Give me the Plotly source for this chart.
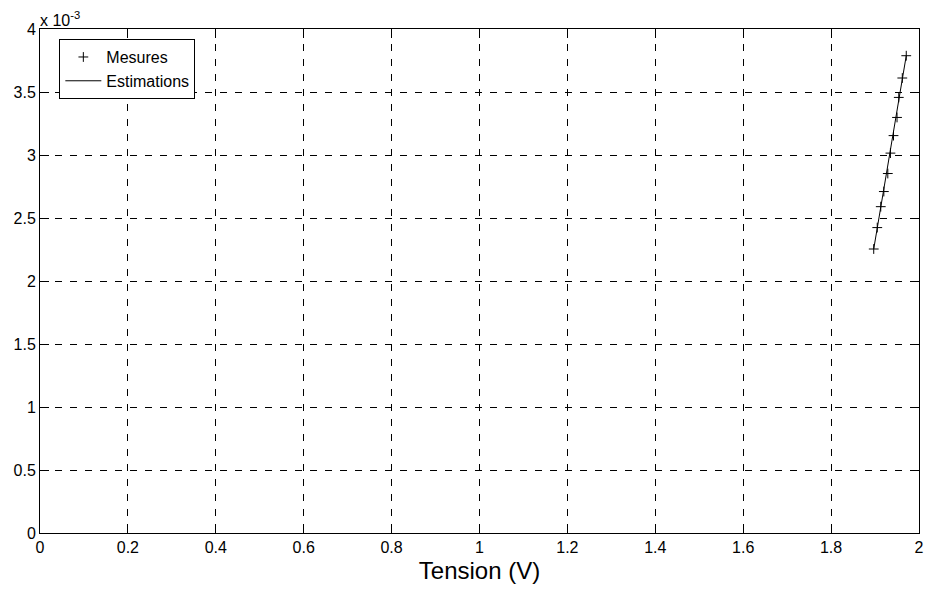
import plotly.graph_objects as go

# Mesures (tension en V, courant en A)
tension = [1.897, 1.905, 1.913, 1.920, 1.929, 1.935, 1.942, 1.950, 1.954, 1.962, 1.971]
courant = [2.254e-3, 2.424e-3, 2.590e-3, 2.710e-3, 2.853e-3, 3.015e-3,
           3.154e-3, 3.298e-3, 3.457e-3, 3.611e-3, 3.788e-3]

# Estimations
tension_est = [1.897, 1.971]
courant_est = [2.254e-3, 3.788e-3]

x_ticks = [0, 0.2, 0.4, 0.6, 0.8, 1, 1.2, 1.4, 1.6, 1.8, 2]
x_labels = ["0", "0.2", "0.4", "0.6", "0.8", "1", "1.2", "1.4", "1.6", "1.8", "2"]
y_ticks = [0, 0.5e-3, 1e-3, 1.5e-3, 2e-3, 2.5e-3, 3e-3, 3.5e-3, 4e-3]
y_labels = ["0", "0.5", "1", "1.5", "2", "2.5", "3", "3.5", "4"]

police = "Liberation Sans, Arial, sans-serif"

fig = go.Figure()

fig.add_trace(go.Scatter(
    x=tension, y=courant,
    mode="markers",
    name="Mesures",
    marker=dict(symbol="cross-thin", size=7, line=dict(color="black", width=1), color="black"),
))

fig.add_trace(go.Scatter(
    x=tension_est, y=courant_est,
    mode="lines",
    name="Estimations",
    line=dict(color="black", width=1),
))

axe = dict(
    showline=True, linecolor="black", linewidth=1, mirror="ticks",
    ticks="inside", ticklen=9, tickcolor="black",
    showgrid=True, gridcolor="black", griddash="7px,8px", gridwidth=1,
    zeroline=False, automargin=False,
    tickfont=dict(family=police, size=16, color="black"),
)

fig.update_layout(
    width=926, height=594,
    margin=dict(l=40, r=7, t=29, b=61),
    plot_bgcolor="white", paper_bgcolor="white",
    font=dict(family=police, color="black"),
    xaxis=dict(
        axe, range=[0, 2], tickvals=x_ticks, ticktext=x_labels,
        title=dict(text="Tension (V)", font=dict(family=police, size=24), standoff=6),
    ),
    yaxis=dict(axe, range=[0, 4e-3], tickvals=y_ticks, ticktext=y_labels),
    legend=dict(
        x=0.022, y=0.98, xanchor="left", yanchor="top",
        bordercolor="black", borderwidth=1, bgcolor="white",
        font=dict(family=police, size=16),
        tracegroupgap=0, itemwidth=36,
    ),
    annotations=[dict(
        text="x 10<sup>-3</sup>", xref="paper", yref="paper",
        x=0, y=1, xanchor="left", yanchor="bottom", yshift=-2, xshift=-2,
        showarrow=False, font=dict(family=police, size=16),
    )],
)

# page sans marge, pour que le graphique remplisse la fenêtre
fig.write_html("out.html", config={"displayModeBar": False},
               post_script="document.body.style.margin='0';")
